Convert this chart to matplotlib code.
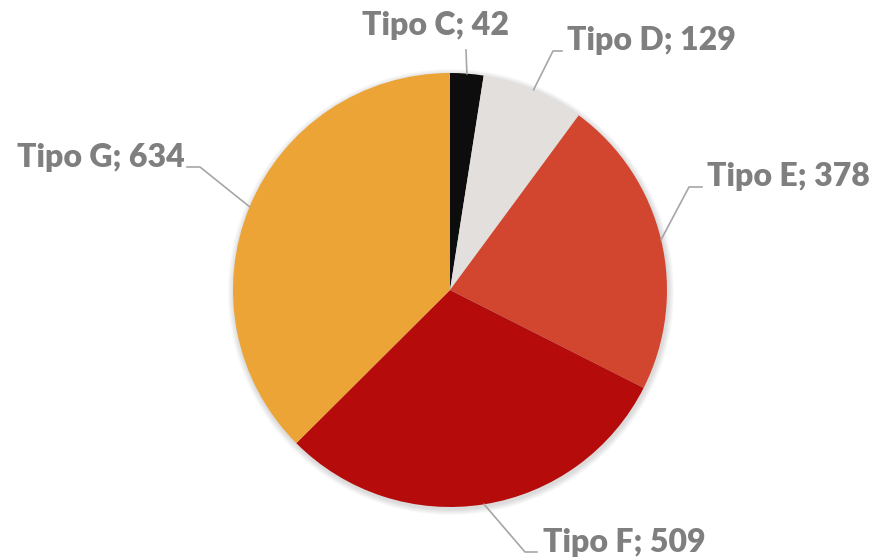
import numpy as np
import matplotlib.pyplot as plt
from matplotlib.patches import Circle

# data
labels = ['Tipo C', 'Tipo D', 'Tipo E', 'Tipo F', 'Tipo G']
values = [42, 129, 378, 509, 634]
colors = ['#0d0d0d', '#e3dfdc', '#d2462f', '#b50c0b', '#eca437']

W, H = 872, 557
cx, cy, r = 450, H - 290, 217

# label layout: text left x, baseline y (pixels from top), leader elbow / end
text_pos = [(362, 35), (567, 50), (707, 186), (543, 552), (17, 167)]
leader_end = [(466, 50), (562, 51), (702, 187), (537, 552), (187, 167)]
leader_elbow = [(466, 50), (553, 51), (689, 187), (525, 552), (200, 167)]

fig = plt.figure(figsize=(W / 100, H / 100), dpi=100)
ax = fig.add_axes([0, 0, 1, 1])

# soft shadow
for k in range(6):
    ax.add_patch(Circle((cx + 1, cy - 2), r + 1 + k, color='k', alpha=0.025, lw=0, zorder=0))

wedges, _ = ax.pie(values, colors=colors, startangle=90, counterclock=False,
                   center=(cx, cy), radius=r, frame=True,
                   wedgeprops=dict(linewidth=0))
ax.set_xlim(0, W)
ax.set_ylim(0, H)
ax.set_aspect('auto')
ax.axis('off')

for w, lab, v, tp, le, lb in zip(wedges, labels, values, text_pos, leader_end, leader_elbow):
    mid = np.deg2rad((w.theta1 + w.theta2) / 2)
    ex, ey = cx + r * np.cos(mid), cy + r * np.sin(mid)
    ax.plot([ex, lb[0], le[0]], [ey, H - lb[1], H - le[1]], color='#a6a6a6', lw=1.2, zorder=3)
    ax.text(tp[0], H - tp[1], f'{lab}; {v}', ha='left', va='baseline',
            fontsize=23, fontweight='heavy', color='#7f7f7f', family='Lato')

fig.savefig('out.png', dpi=100)
